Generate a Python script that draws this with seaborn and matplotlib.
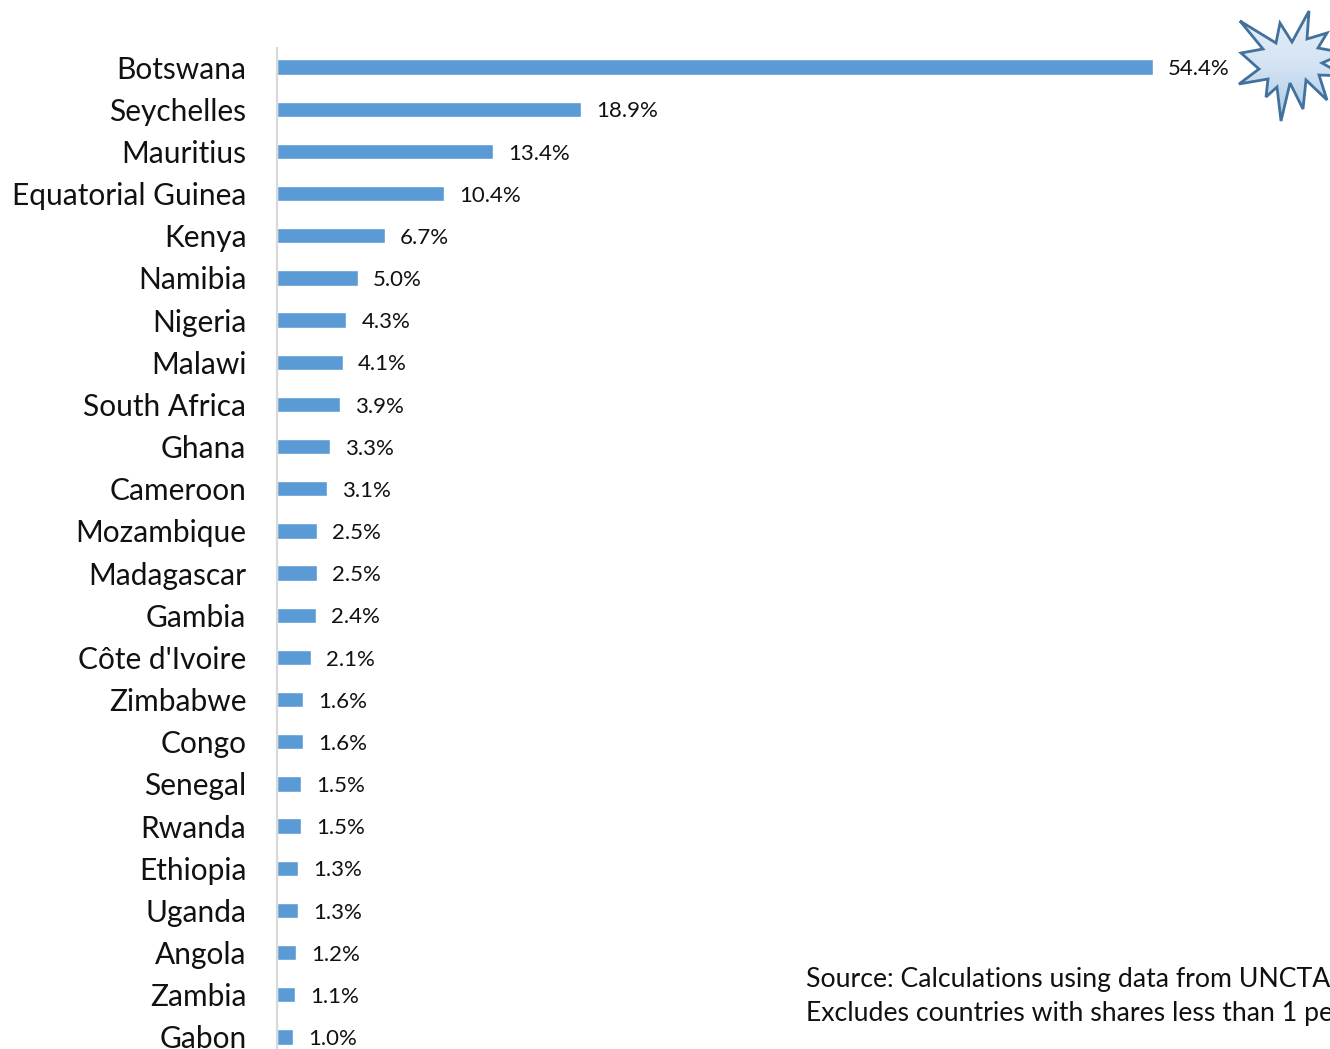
import numpy as np
import pandas as pd
import matplotlib
matplotlib.use("Agg")
import matplotlib.pyplot as plt
from matplotlib.patches import Polygon
from matplotlib.colors import LinearSegmentedColormap
import seaborn as sns

countries = ["Botswana", "Seychelles", "Mauritius", "Equatorial Guinea", "Kenya", "Namibia",
             "Nigeria", "Malawi", "South Africa", "Ghana", "Cameroon", "Mozambique",
             "Madagascar", "Gambia", "Côte d'Ivoire", "Zimbabwe", "Congo", "Senegal",
             "Rwanda", "Ethiopia", "Uganda", "Angola", "Zambia", "Gabon"]
shares = [54.4, 18.9, 13.4, 10.4, 6.7, 5.0, 4.3, 4.1, 3.9, 3.3, 3.1, 2.5,
          2.5, 2.4, 2.1, 1.6, 1.6, 1.5, 1.5, 1.3, 1.3, 1.2, 1.1, 1.0]
source_lines = ["Source: Calculations using data from UNCTAD.",
                "Excludes countries with shares less than 1 percent."]

W, H = 1330, 1049
sns.set_theme(style="white")
plt.rcParams["font.family"] = ["Lato", "DejaVu Sans"]

fig = plt.figure(figsize=(W / 100, H / 100), dpi=100, facecolor="white")
# The lower end of the axes runs past the figure edge, so the last row sits at the very bottom.
top_px, bottom_px, left_px = 46, 1058, 277
ax = fig.add_axes([left_px / W, 1 - bottom_px / H, 1 - left_px / W, (bottom_px - top_px) / H])

df = pd.DataFrame({"country": countries, "share": shares})
sns.barplot(data=df, y="country", x="share", orient="h", color="#5B9BD5", saturation=1,
            width=0.36, ax=ax)
ax.set_xlim(0, (W - left_px) / 16.1)
ax.set_ylim(len(countries) - 0.5, -0.5)
ax.set_xlabel("")
ax.set_ylabel("")
ax.xaxis.set_visible(False)
for side in ("top", "right", "bottom"):
    ax.spines[side].set_visible(False)
ax.spines["left"].set_color("#D9D9D9")
ax.spines["left"].set_linewidth(1.6)
ax.spines["left"].set_capstyle("butt")
ax.spines["left"].set_bounds(len(countries) - 0.5, -0.47)
ax.tick_params(axis="y", length=0, pad=22, labelsize=21.5, labelcolor="#111111")

for i, v in enumerate(shares):
    ax.annotate(f"{v:.1f}%", xy=(v, i), xytext=(10.9, -1.6), textcoords="offset points",
                ha="left", va="center", fontsize=16, color="#111111")

# Starburst callout beside the leading bar, filled with a vertical gradient.
star_px = np.array([(1240, 21), (1276, 43), (1280, 23), (1292, 42), (1309, 11), (1307, 39),
                    (1327, 33), (1318, 48), (1345, 53), (1322, 63), (1345, 76), (1319, 75),
                    (1327, 100), (1306, 80), (1303, 109), (1290, 83), (1281, 121), (1277, 87),
                    (1266, 97), (1268, 79), (1239, 84), (1259, 69), (1241, 53), (1263, 49)], float)
overlay = fig.add_axes([0, 0, 1, 1], facecolor="none")
star = Polygon(star_px, closed=True, facecolor="none", edgecolor="#41719C", linewidth=2.0,
               joinstyle="miter", zorder=3)
overlay.add_patch(star)
cmap = LinearSegmentedColormap.from_list("burst", ["#E8F0F9", "#D3E3F3", "#A9C9E8"])
grad = overlay.imshow(np.linspace(0, 1, 128)[:, None], cmap=cmap, aspect="auto",
                      extent=(1239, 1345, 121, 11), zorder=2)
grad.set_clip_path(star)
overlay.set_xlim(0, W)
overlay.set_ylim(H, 0)
overlay.axis("off")

fig.text(806 / W, 1 - 979 / H, source_lines[0], ha="left", va="center", fontsize=19.2, color="#111111")
fig.text(806 / W, 1 - 1013 / H, source_lines[1], ha="left", va="center", fontsize=19.2, color="#111111")

fig.savefig("out.png", dpi=100, facecolor="white")
